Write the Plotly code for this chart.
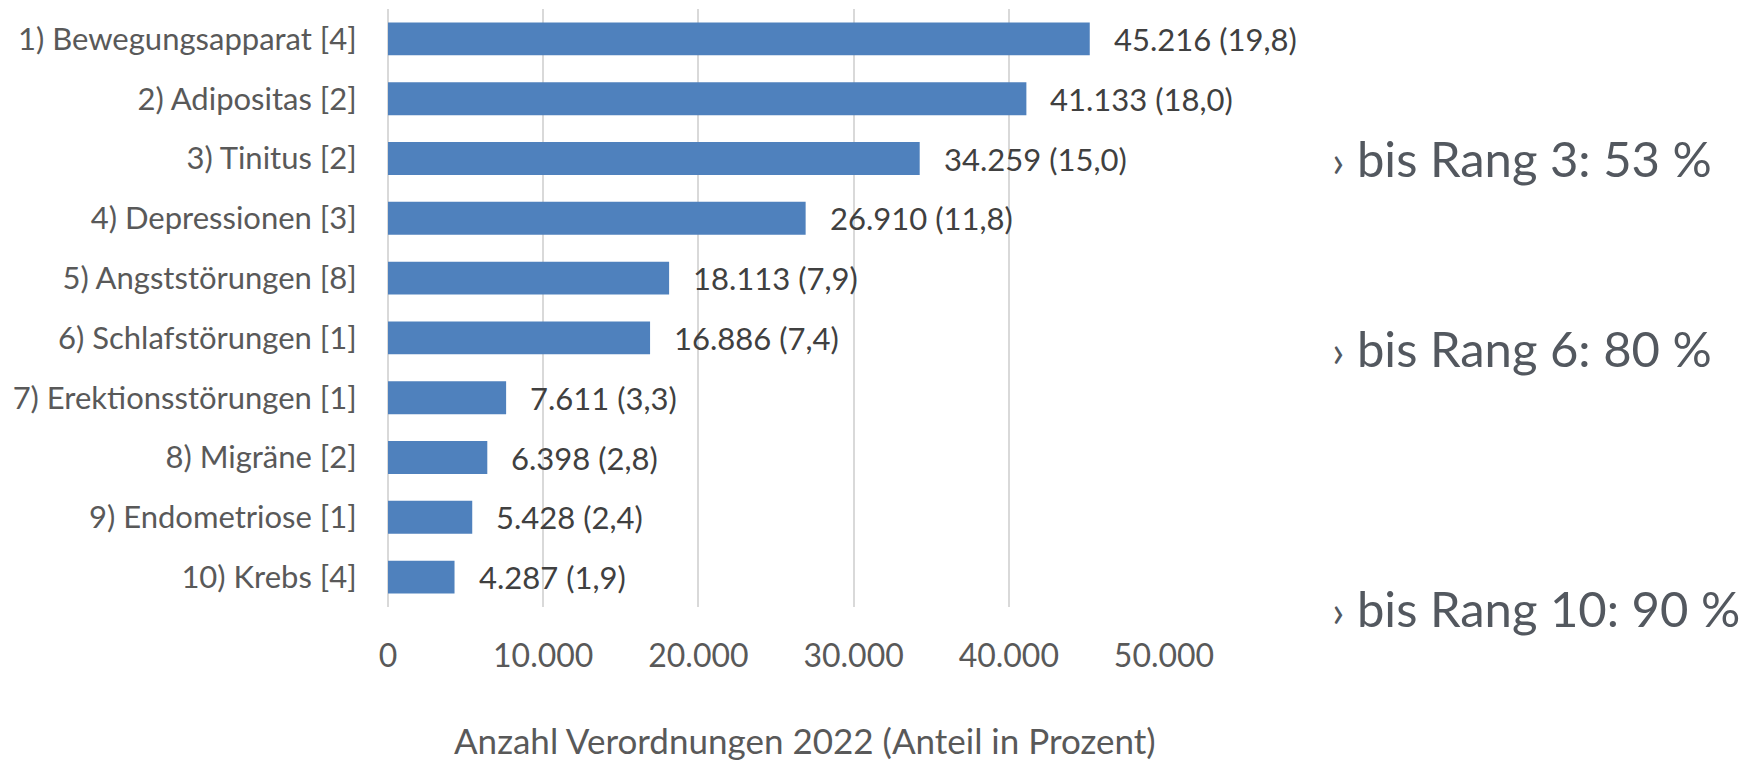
import plotly.graph_objects as go

categories = [
    "1) Bewegungsapparat [4]",
    "2) Adipositas [2]",
    "3) Tinitus [2]",
    "4) Depressionen [3]",
    "5) Angststörungen [8]",
    "6) Schlafstörungen [1]",
    "7) Erektionsstörungen [1]",
    "8) Migräne [2]",
    "9) Endometriose [1]",
    "10) Krebs [4]",
]
values = [45216, 41133, 34259, 26910, 18113, 16886, 7611, 6398, 5428, 4287]
shares = ["19,8", "18,0", "15,0", "11,8", "7,9", "7,4", "3,3", "2,8", "2,4", "1,9"]
tick_vals = [0, 10000, 20000, 30000, 40000, 50000]
tick_text = ["0", "10.000", "20.000", "30.000", "40.000", "50.000"]
side_notes = ["bis Rang 3: 53 %", "bis Rang 6: 80 %", "bis Rang 10: 90 %"]
side_note_y = [0.751, 0.433, -0.002]
axis_title = "Anzahl Verordnungen 2022 (Anteil in Prozent)"

FONT = "Lato"

fig = go.Figure()
fig.add_trace(go.Bar(
    x=values,
    y=categories,
    orientation="h",
    marker=dict(color="#4F81BD", line=dict(width=0)),
    hoverinfo="skip",
))

annotations = []
for v, c, s in zip(values, categories, shares):
    label = f"{v:,}".replace(",", ".") + f" ({s})"
    annotations.append(dict(
        x=v, y=c, xref="x", yref="y", text=label, showarrow=False,
        xanchor="left", yanchor="middle", xshift=22,
        font=dict(family=FONT, size=31, color="#404040"),
    ))

for t, yy in zip(side_notes, side_note_y):
    annotations.append(dict(
        x=1.2139, y=yy, xref="paper", yref="paper",
        text="<span style='font-size:44px'>›</span> " + t,
        showarrow=False, xanchor="left", yanchor="middle",
        font=dict(family=FONT, size=49, color="#53585f"),
    ))

annotations.append(dict(
    x=0.537, y=-0.222, xref="paper", yref="paper", text=axis_title,
    showarrow=False, xanchor="center", yanchor="middle",
    font=dict(family=FONT, size=35, color="#595959"),
))

fig.update_layout(
    template="none",
    width=1746, height=763,
    margin=dict(l=388, r=582, t=9, b=156, autoexpand=False),
    paper_bgcolor="white", plot_bgcolor="white",
    bargap=0.45,
    showlegend=False,
    annotations=annotations,
    font=dict(family=FONT, size=31, color="#595959"),
    xaxis=dict(
        range=[0, 50000],
        automargin=False,
        tickvals=tick_vals, ticktext=tick_text,
        showgrid=True, gridcolor="#d9d9d9", gridwidth=2,
        zeroline=True, zerolinecolor="#d9d9d9", zerolinewidth=2,
        showline=False,
        ticks="outside", ticklen=21, tickcolor="rgba(0,0,0,0)",
        tickfont=dict(family=FONT, size=32, color="#595959"),
    ),
    yaxis=dict(
        autorange="reversed",
        automargin=False,
        showgrid=False, zeroline=False, showline=False,
        ticks="outside", ticklen=24, tickcolor="rgba(0,0,0,0)",
        tickfont=dict(family=FONT, size=31, color="#595959"),
    ),
)

fig.write_html(
    "out.html",
    config={"displayModeBar": False},
    post_script="document.body.style.margin='0';document.body.style.overflow='hidden';",
)
